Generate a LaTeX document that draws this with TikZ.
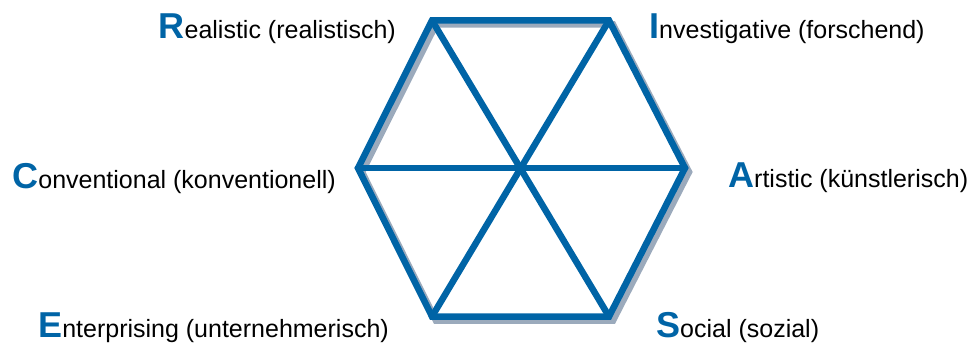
\documentclass[tikz,border=0pt]{standalone}
\usepackage{fontspec}
\setmainfont{Liberation Sans}
\usepackage{xcolor}
\usetikzlibrary{calc}
\definecolor{blue1}{RGB}{0,100,166}
\definecolor{gray1}{RGB}{155,170,188}
\newcommand{\initial}[1]{{\fontsize{36}{36}\selectfont\bfseries\color{blue1}#1}}

\begin{document}
\begin{tikzpicture}[x=1pt, y=-1pt,
    hexline/.style={draw=blue1, line width=6.5pt, line join=miter},
    hexshadow/.style={draw=gray1, line width=6.5pt, line join=miter},
    lab/.style={inner sep=0pt, font=\fontsize{25}{30}\selectfont, text=black}]
    \useasboundingbox (0,0) rectangle (973,345);

    % vertices of the hexagon
    \coordinate (vr) at (432,20.5);
    \coordinate (vi) at (609,20.5);
    \coordinate (va) at (685,168);
    \coordinate (vs) at (609,316.5);
    \coordinate (ve) at (432,316.5);
    \coordinate (vc) at (358,168);
    \coordinate (mid) at (521,168);

    % shadow behind the outline
    \draw[hexshadow, transform canvas={shift={(4pt,-4pt)}}] (vr) -- (vi) -- (va) -- (vs) -- (ve) -- (vc) -- cycle;

    \draw[hexline] (vr) -- (vi) -- (va) -- (vs) -- (ve) -- (vc) -- cycle;
    \draw[hexline] (vr) -- (vs);
    \draw[hexline] (vi) -- (ve);
    \draw[hexline] (vc) -- (va);

    \node[lab, anchor=base east] (lr) at (396,38) {\initial{R}ealistic (realistisch)};
    \node[lab, anchor=base west] (li) at (649,39) {\initial{I}nvestigative (forschend)};
    \node[lab, anchor=base west] (la) at (728,187) {\initial{A}rtistic (künstlerisch)};
    \node[lab, anchor=base west] (ls) at (656,337.5) {\initial{S}ocial (sozial)};
    \node[lab, anchor=base east] (le) at (389,337.5) {\initial{E}nterprising (unternehmerisch)};
    \node[lab, anchor=base east] (lc) at (336,188) {\initial{C}onventional (konventionell)};
\end{tikzpicture}
\end{document}
